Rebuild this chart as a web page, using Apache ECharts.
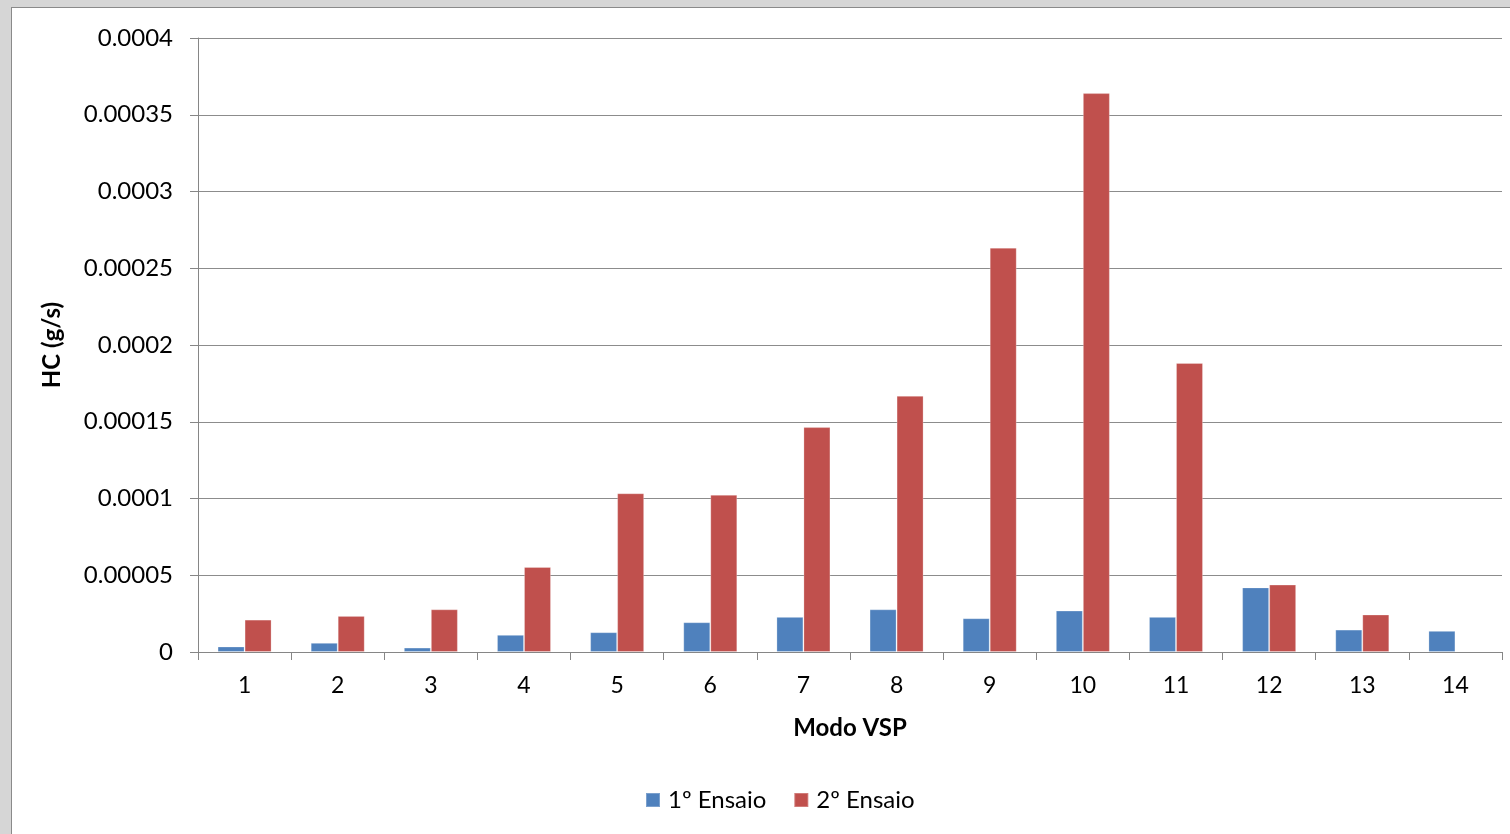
<!DOCTYPE html>
<html>
<head>
<meta charset="utf-8">
<script src="https://cdn.jsdelivr.net/npm/echarts@6/dist/echarts.min.js"></script>
<style>
  html, body { margin: 0; padding: 0; width: 1510px; height: 834px; overflow: hidden; background: #d6d6d6; }
  #frame { position: absolute; left: 11px; top: 7px; width: 1510px; height: 840px; background: #ffffff; border: 1px solid #8a8a8a; box-sizing: border-box; }
  #chart { position: absolute; left: 0; top: 0; width: 1510px; height: 834px; }
</style>
</head>
<body>
<div id="frame"></div>
<div id="chart"></div>
<script>
// VSP modes on the category axis
const modes = ['1', '2', '3', '4', '5', '6', '7', '8', '9', '10', '11', '12', '13', '14'];
// HC emissions (g/s) per VSP mode, first and second test runs
const ensaio1 = [0.0000036, 0.0000060, 0.0000029, 0.0000112, 0.0000129, 0.0000194, 0.0000229, 0.0000278, 0.0000220, 0.0000270, 0.0000229, 0.0000421, 0.0000146, 0.0000138];
const ensaio2 = [0.0000211, 0.0000235, 0.0000278, 0.0000554, 0.0001034, 0.0001024, 0.0001465, 0.0001669, 0.0002634, 0.0003641, 0.0001883, 0.0000439, 0.0000244, null];
const seriesNames = ['1º Ensaio', '2º Ensaio'];
const yTickLabels = ['0', '0.00005', '0.0001', '0.00015', '0.0002', '0.00025', '0.0003', '0.00035', '0.0004'];

const font = 'Lato, "Open Sans", sans-serif';
const chart = echarts.init(document.getElementById('chart'), null, { renderer: 'canvas' });

chart.setOption({
  animation: false,
  backgroundColor: 'transparent',
  textStyle: { fontFamily: font, color: '#000' },
  grid: { left: 198, right: 8, top: 38, bottom: 182, containLabel: false },
  legend: {
    bottom: 17,
    left: 640,
    itemWidth: 14,
    itemHeight: 14,
    itemGap: 27,
    icon: 'rect',
    textStyle: { fontFamily: font, fontSize: 24, color: '#000', padding: [0, 0, 0, 3] },
    data: seriesNames
  },
  xAxis: {
    type: 'category',
    data: modes,
    name: 'Modo VSP',
    nameLocation: 'middle',
    nameGap: 64,
    nameTextStyle: { fontFamily: font, fontSize: 24, fontWeight: 'bold', color: '#000' },
    axisLine: { lineStyle: { color: '#868686', width: 1 } },
    axisTick: { show: true, length: 8, inside: false, lineStyle: { color: '#868686' } },
    axisLabel: { fontFamily: font, fontSize: 23, color: '#000', margin: 22 },
    splitLine: { show: false }
  },
  yAxis: {
    type: 'value',
    min: 0,
    max: 0.0004,
    interval: 0.00005,
    name: 'HC (g/s)',
    nameLocation: 'middle',
    nameGap: 134,
    nameRotate: 90,
    nameTextStyle: { fontFamily: font, fontSize: 24, fontWeight: 'bold', color: '#000' },
    axisLine: { show: true, lineStyle: { color: '#868686', width: 1 } },
    axisTick: { show: true, length: 8, inside: false, lineStyle: { color: '#868686' } },
    axisLabel: {
      fontFamily: font, fontSize: 24, color: '#000', margin: 25,
      formatter: function (v) {
        const i = Math.round(v / 0.00005);
        return yTickLabels[i] !== undefined ? yTickLabels[i] : '';
      }
    },
    splitLine: { show: true, lineStyle: { color: '#8c8c8c', width: 1 } }
  },
  series: [
    {
      name: seriesNames[0],
      type: 'bar',
      data: ensaio1,
      barGap: '0%',
      barCategoryGap: '42%',
      itemStyle: { color: '#4F81BD', borderColor: 'rgba(255,255,255,0.25)', borderWidth: 1 }
    },
    {
      name: seriesNames[1],
      type: 'bar',
      data: ensaio2,
      barGap: '0%',
      barCategoryGap: '42%',
      itemStyle: { color: '#C0504D', borderColor: 'rgba(255,255,255,0.25)', borderWidth: 1 }
    }
  ]
});
</script>
</body>
</html>
